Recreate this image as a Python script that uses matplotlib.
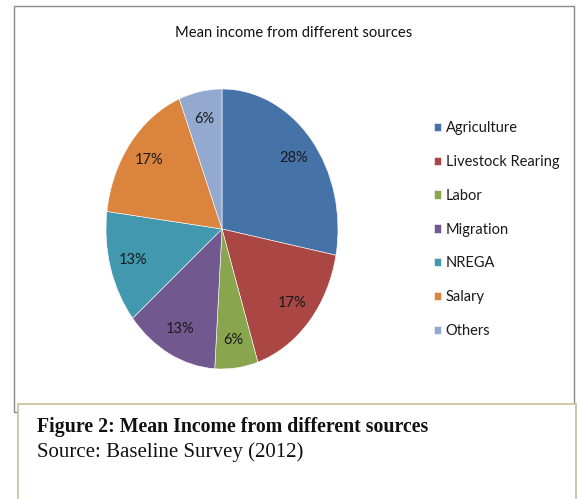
import matplotlib
matplotlib.use("Agg")
import matplotlib.pyplot as plt
from matplotlib.patches import Rectangle

categories = ["Agriculture", "Livestock Rearing", "Labor", "Migration", "NREGA", "Salary", "Others"]
values = [28, 17, 6, 13, 13, 17, 6]
colors = ["#4572A7", "#AA4643", "#89A54E", "#71588F", "#4198AF", "#DB843D", "#93A9CF"]

W, H = 578, 499
fig = plt.figure(figsize=(W / 100, H / 100), dpi=100)

def fx(x):
    return x / W

def fy(y):
    return 1 - y / H

# outer chart frame
fig.patches.append(Rectangle((fx(14), fy(412)), fx(574) - fx(14), fy(6) - fy(412),
                             transform=fig.transFigure, fill=False, edgecolor="#8a8a8a",
                             linewidth=1.0, zorder=0))

ax = fig.add_axes([fx(106), fy(369), fx(338) - fx(106), fy(89) - fy(369)])
wedges, texts, autotexts = ax.pie(values, colors=colors, startangle=90, counterclock=False,
                                  autopct="%d%%", pctdistance=0.8, radius=1.0,
                                  wedgeprops=dict(edgecolor="white", linewidth=0.4),
                                  textprops=dict(fontsize=10.5, family="Lato", color="#1a1a1a"))
ax.set_aspect("auto")
ax.set_xlim(-1, 1)
ax.set_ylim(-1, 1)

fig.text(fx(294), fy(33), "Mean income from different sources", ha="center", va="center",
         fontsize=10.6, family="Lato", color="#111111")

leg = fig.legend(wedges, categories, loc="upper left", bbox_to_anchor=(fx(421), fy(108)),
                 frameon=False, handlelength=0.5, handleheight=0.5, handletextpad=0.3,
                 labelspacing=1.36, prop=dict(family="Lato", size=10.5))
for t in leg.get_texts():
    t.set_color("#1a1a1a")

# caption box
fig.patches.append(Rectangle((fx(18), fy(510)), fx(576) - fx(18), fy(404) - fy(510),
                             transform=fig.transFigure, facecolor="white", edgecolor="#c8c09a",
                             linewidth=1.2, zorder=1))
fig.text(fx(37), fy(427), "Figure 2: Mean Income from different sources", ha="left", va="center",
         fontsize=14.3, family="Liberation Serif", fontweight="bold", color="#111111", zorder=2)
fig.text(fx(37), fy(452), "Source: Baseline Survey (2012)", ha="left", va="center",
         fontsize=15, family="Liberation Serif", color="#111111", zorder=2)

fig.savefig("out.png", dpi=100)
